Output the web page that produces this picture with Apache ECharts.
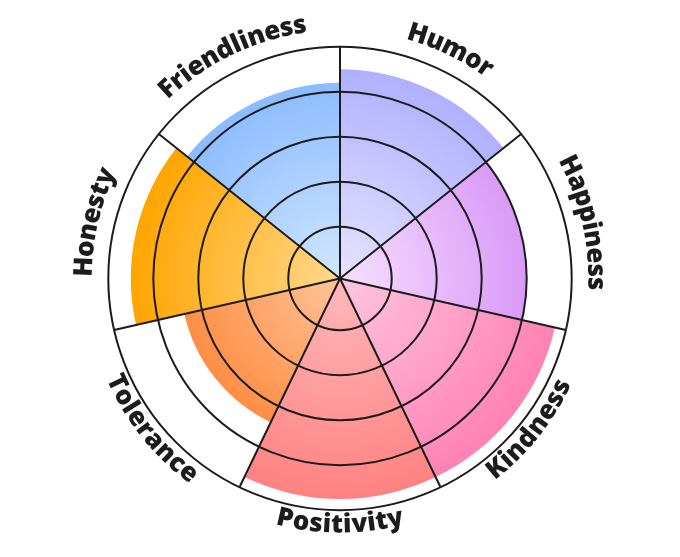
<!DOCTYPE html>
<html>
<head>
<meta charset="utf-8">
<title>Wheel</title>
<script src="https://cdn.jsdelivr.net/npm/echarts@6/dist/echarts.min.js"></script>
<style>
  html, body { margin: 0; padding: 0; background: #fff; }
  #main { width: 680px; height: 557px; }
</style>
</head>
<body>
<div id="main"></div>
<script>
    // categories clockwise from the top
    var categories = ['Humor', 'Happiness', 'Kindness', 'Positivity', 'Tolerance', 'Honesty', 'Friendliness'];
    var scores = [4.5, 4.0, 4.75, 4.75, 3.4, 4.5, 4.2];
    var ringTicks = [0, 1, 2, 3, 4, 5];

    var outerColors = ['#b0b0ff', '#d99af7', '#ff82b3', '#ff8282', '#ff8e45', '#ffa500', '#8cbcff'];
    var innerColors = ['#e6e4ff', '#f7e0ff', '#ffc6e0', '#ffb8bb', '#ffc49a', '#ffd98c', '#d2e7ff'];

    var LINE = '#1c1c1c';
    var FONT = '"Open Sans", "Noto Sans", sans-serif';
    var FONT_SIZE = 26;
    var FONT_WEIGHT = 800;
    var measureCtx = document.createElement('canvas').getContext('2d');
    measureCtx.font = FONT_WEIGHT + ' ' + FONT_SIZE + 'px ' + FONT;

    var chart = echarts.init(document.getElementById('main'));

    function renderSector(params, api) {
        var cs = params.coordSys;
        var idx = api.value(1);
        var p = api.coord([api.value(0), idx]);
        var dx = p[0] - cs.cx, dy = p[1] - cs.cy;
        var r = Math.sqrt(dx * dx + dy * dy);
        var a = Math.atan2(dy, dx);
        var half = Math.PI / categories.length;
        return {
            type: 'sector',
            shape: { cx: cs.cx, cy: cs.cy, r0: 0, r: r, startAngle: a - half, endAngle: a + half, clockwise: true },
            style: {
                fill: new echarts.graphic.RadialGradient(cs.cx, cs.cy, r, [
                    { offset: 0, color: innerColors[idx] },
                    { offset: 1, color: outerColors[idx] }
                ], true)
            }
        };
    }

    // letters laid along the outer ring
    function renderLabel(params, api) {
        var cs = params.coordSys;
        var idx = api.value(1);
        var text = categories[idx];
        var p = api.coord([api.value(0), idx]);
        var a = Math.atan2(p[1] - cs.cy, p[0] - cs.cx);
        var deg = a * 180 / Math.PI;
        var lower = deg > 0 && deg < 180;   // bottom half: read counter-clockwise, tops inward
        var rMid = lower ? cs.r + 15 : cs.r + 24;
        var widths = [], total = 0;
        for (var i = 0; i < text.length; i++) {
            var w = measureCtx.measureText(text[i]).width;
            widths.push(w);
            total += w;
        }
        var dir = lower ? -1 : 1;
        var start = a - dir * total / 2 / rMid;
        var children = [];
        var acc = 0;
        for (var j = 0; j < text.length; j++) {
            var th = start + dir * (acc + widths[j] / 2) / rMid;
            acc += widths[j];
            children.push({
                type: 'text',
                x: cs.cx + rMid * Math.cos(th),
                y: cs.cy + rMid * Math.sin(th),
                rotation: lower ? Math.PI / 2 - th : -(th + Math.PI / 2),
                style: {
                    text: text[j],
                    fill: LINE,
                    fontFamily: FONT,
                    fontWeight: FONT_WEIGHT,
                    fontSize: FONT_SIZE,
                    align: 'center',
                    verticalAlign: 'middle'
                }
            });
        }
        return { type: 'group', children: children };
    }

    var option = {
        backgroundColor: '#fff',
        animation: false,
        polar: [
            { center: ['50%', '50%'], radius: [6.7, 231.7] },
            { center: ['50%', '50%'], radius: [0, 231.7] }
        ],
        angleAxis: [
            {
                polarIndex: 0,
                type: 'category',
                data: categories,
                startAngle: 90,
                axisLine: { show: false },
                axisTick: { show: false },
                axisLabel: { show: false },
                splitLine: { show: false }
            },
            {
                polarIndex: 1,
                type: 'category',
                data: categories,
                startAngle: 90,
                z: 10,
                axisLine: { show: false },
                axisTick: { show: false },
                axisLabel: { show: false },
                splitLine: { show: true, lineStyle: { color: LINE, width: 2 } }
            }
        ],
        radiusAxis: [
            {
                polarIndex: 0,
                type: 'value',
                min: ringTicks[0],
                max: ringTicks[ringTicks.length - 1],
                interval: 1,
                z: 10,
                axisLine: { show: false },
                axisTick: { show: false },
                axisLabel: { show: false },
                splitLine: {
                    show: true,
                    // no ring at the inner edge
                    lineStyle: {
                        color: ringTicks.map(function (t, i) { return i === 0 ? 'rgba(0,0,0,0)' : LINE; }),
                        width: 2
                    }
                }
            },
            {
                polarIndex: 1,
                type: 'value',
                min: 0,
                max: 5,
                show: false,
                splitLine: { show: false }
            }
        ],
        series: [
            {
                type: 'custom',
                coordinateSystem: 'polar',
                polarIndex: 0,
                z: 1,
                renderItem: renderSector,
                data: scores.map(function (v, i) { return [v, i]; })
            },
            {
                type: 'custom',
                coordinateSystem: 'polar',
                polarIndex: 0,
                z: 20,
                silent: true,
                renderItem: renderLabel,
                data: categories.map(function (c, i) { return [ringTicks[ringTicks.length - 1], i]; })
            }
        ]
    };
    chart.setOption(option);
</script>
</body>
</html>
